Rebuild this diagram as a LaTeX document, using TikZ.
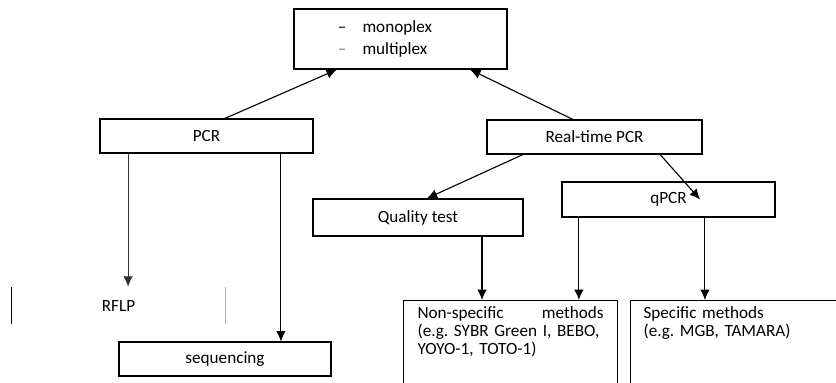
\documentclass[tikz,border=0pt]{standalone}
\usepackage{fontspec}
\setmainfont{Carlito}
\usetikzlibrary{arrows.meta}
\frenchspacing
\begin{document}
\begin{tikzpicture}[x=0.025cm,y=-0.025cm,>={Latex[length=2.6mm,width=2.4mm]},
  box/.style={draw,line width=0.8pt,minimum height=0.85cm,inner sep=0pt,font=\fontsize{12.2}{13}\selectfont},
  tbox/.style={draw,line width=0.8pt,anchor=north west,inner ysep=0.15cm,align=left,font=\fontsize{12.2}{12.9}\selectfont,text depth=2.5cm},
  link/.style={->,line width=0.8pt}]
\useasboundingbox (0,0) rectangle (836,382);
%\draw (0,0) rectangle (836,382);

\draw (400.5,39) node[box,minimum width=5.325cm,minimum height=1.5cm,text width=5.325cm,align=left,font=\fontsize{12.2}{15.8}\selectfont] (mode) {\hspace*{1.1cm}--\hspace{0.4cm}monoplex\\ \hspace*{1.1cm}{\color{gray}--}\hspace{0.4cm}multiplex};
\draw (206.5,136) node[box,minimum width=5.325cm] (pcr) {PCR};
\draw (594.5,137) node[box,minimum width=5.375cm] (rt) {Real-time PCR};
\draw (418,217.5) node[box,minimum width=5.25cm,minimum height=0.925cm] (qt) {Quality test};
\draw (668.5,199.5) node[box,minimum width=5.325cm,minimum height=0.875cm] (qpcr) {qPCR};
\draw (118.5,305.5) node[minimum width=5.325cm,minimum height=0.925cm,inner sep=0pt,font=\fontsize{12.2}{13}\selectfont] (rflp) {RFLP};
\draw (225,359) node[box,minimum width=5.3cm] (seq) {sequencing};
\draw (403,300) node[tbox,inner xsep=0.35cm,text width=4.65cm] (nonspec) {Non-specific\hfill methods\\\mbox{(e.g. SYBR Green I, BEBO,}\\YOYO-1, TOTO-1)};
\draw (630,300) node[tbox,inner xsep=0.325cm,text width=4.75cm] (spec) {Specific methods\\(e.g. MGB, TAMARA)};

\draw[line width=0.8pt] (rflp.north west) -- (rflp.south west);
\draw[line width=0.8pt,gray!60] (rflp.north east) -- (rflp.south east);

\draw[link] ([xshift=0.46cm]pcr.north) -- ([xshift=-1.59cm]mode.south);
\draw[link] ([xshift=-0.54cm]rt.north) -- ([xshift=1.74cm]mode.south);
\draw[link] ([xshift=-1.79cm]rt.south) -- ([xshift=0.22cm]qt.north);
\draw[link] ([xshift=1.64cm]rt.south) -- ([xshift=0.79cm]qpcr.center);
\draw[link,black!80] ([xshift=-1.96cm]pcr.south) -- ([xshift=-1.96cm]pcr.south |- rflp.north);
\draw[link] ([xshift=1.86cm]pcr.south) -- ([xshift=1.86cm]pcr.south |- seq.north);
\draw[link] ([xshift=1.6cm]qt.south) -- ([xshift=1.6cm]qt.south |- nonspec.north);
\draw[link] ([xshift=-2.24cm]qpcr.south) -- ([xshift=-2.24cm]qpcr.south |- nonspec.north);
\draw[link] ([xshift=0.91cm]qpcr.south) -- ([xshift=0.91cm]qpcr.south |- spec.north);
\end{tikzpicture}
\end{document}
